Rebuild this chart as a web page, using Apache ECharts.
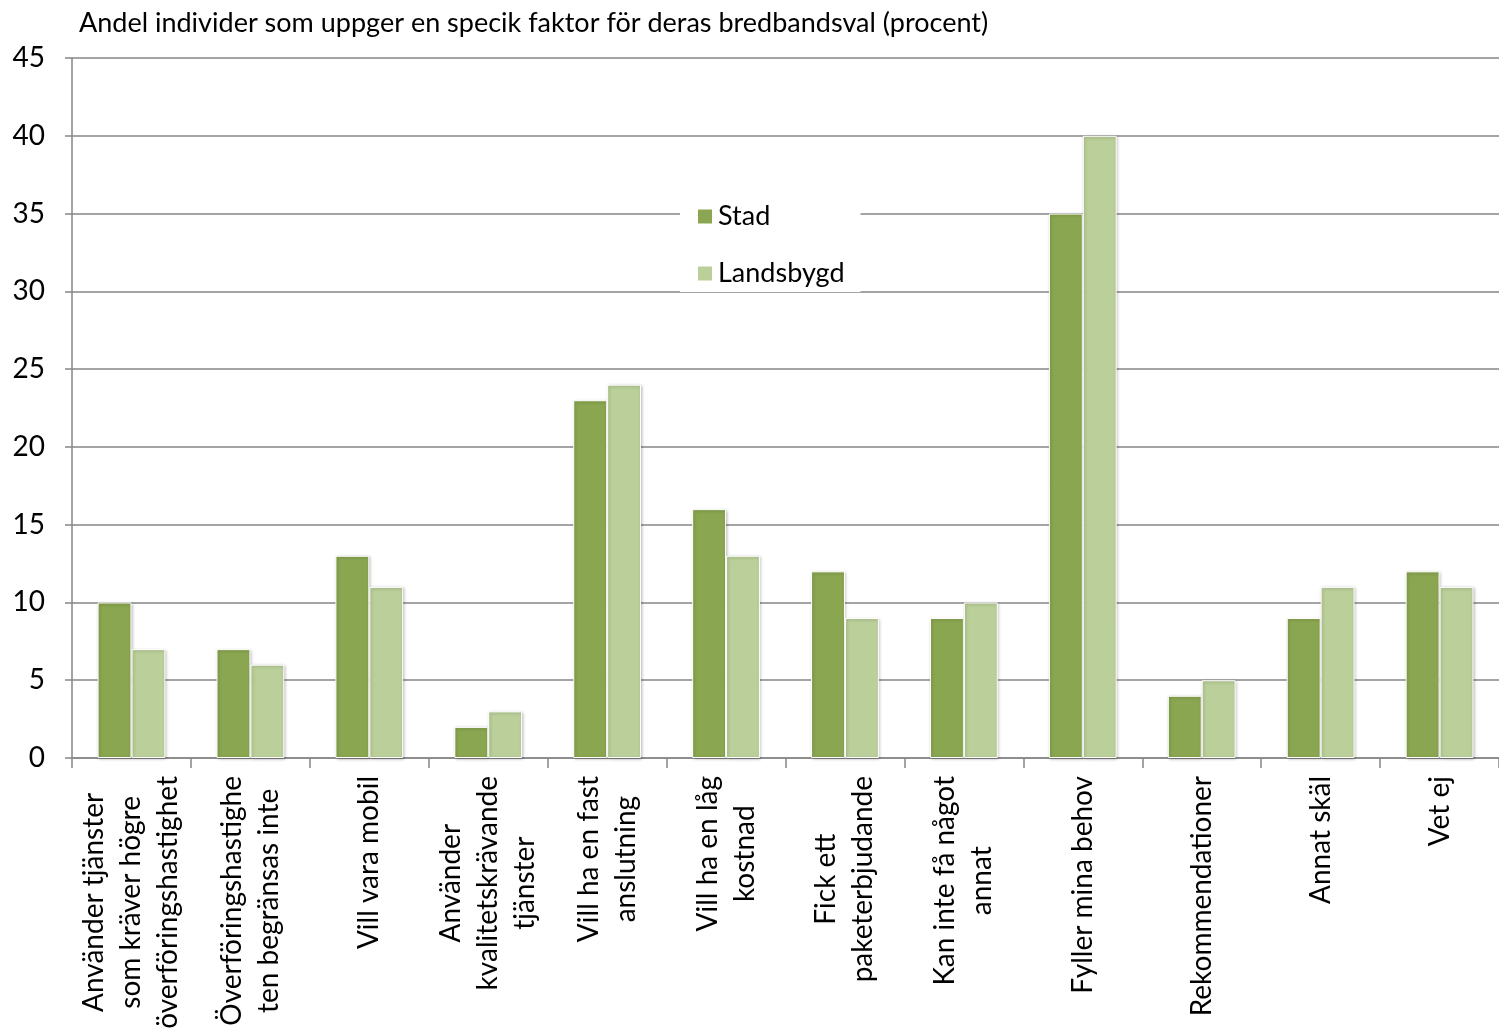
<!DOCTYPE html>
<html>
<head>
<meta charset="utf-8">
<script src="https://cdn.jsdelivr.net/npm/echarts@6/dist/echarts.min.js"></script>
<style>
html,body{margin:0;padding:0;background:#fff;}
#chart{width:1499px;height:1035px;}
</style>
</head>
<body>
<div id="chart"></div>
<script>
const titleText = "Andel individer som uppger en specik faktor för deras bredbandsval (procent)";
const categories = [
  "Använder tjänster\nsom kräver högre\növerföringshastighet",
  "Överföringshastighe\nten begränsas inte",
  "Vill vara mobil",
  "Använder\nkvalitetskrävande\ntjänster",
  "Vill ha en fast\nanslutning",
  "Vill ha en låg\nkostnad",
  "Fick ett\npaketerbjudande",
  "Kan inte få något\nannat",
  "Fyller mina behov",
  "Rekommendationer",
  "Annat skäl",
  "Vet ej"
];
const seriesNames = ["Stad", "Landsbygd"];
const stad = [10, 7, 13, 2, 23, 16, 12, 9, 35, 4, 9, 12];
const landsbygd = [7, 6, 11, 3, 24, 13, 9, 10, 40, 5, 11, 11];
const yMin = 0, yMax = 45, yStep = 5;

const FONT = "Lato";
const chart = echarts.init(document.getElementById('chart'));
const barStyle = (c) => ({
  color: c,
  borderColor: '#ffffff',
  borderWidth: 1,
  shadowColor: 'rgba(0,0,0,0.25)',
  shadowBlur: 3,
  shadowOffsetX: 1,
  shadowOffsetY: 1
});
chart.setOption({
  animation: false,
  backgroundColor: '#ffffff',
  title: {
    text: titleText,
    left: 74, top: 5,
    textStyle: {fontFamily: FONT, fontSize: 27, fontWeight: 'normal', color: '#000'}
  },
  legend: {
    orient: 'vertical',
    left: 680, top: 198,
    backgroundColor: '#ffffff',
    padding: [5, 16, 5, 16],
    itemGap: 30,
    itemWidth: 16, itemHeight: 16,
    icon: 'rect',
    textStyle: {fontFamily: FONT, fontSize: 27, color: '#000'},
    data: seriesNames
  },
  grid: {left: 72, right: 0, top: 58, bottom: 277, containLabel: false},
  xAxis: {
    type: 'category',
    data: categories,
    axisLine: {lineStyle: {color: '#868686', width: 1.5}},
    axisTick: {show: true, length: 10, lineStyle: {color: '#868686', width: 1.5}},
    axisLabel: {
      rotate: 90,
      interval: 0,
      margin: 18,
      fontFamily: FONT,
      fontSize: 28,
      color: '#000',
      lineHeight: 37,
      formatter: function (v) {
        return v.split('\n').map(s => '{c|' + s + '}').join('\n');
      },
      rich: {c: {align: 'center', fontFamily: FONT, fontSize: 28, lineHeight: 37, color: '#000'}}
    }
  },
  yAxis: {
    type: 'value',
    min: yMin, max: yMax, interval: yStep,
    axisLine: {show: true, lineStyle: {color: '#868686', width: 1.5}},
    axisTick: {show: true, length: 7, lineStyle: {color: '#868686', width: 1.5}},
    splitLine: {lineStyle: {color: '#868686', width: 1.5}},
    axisLabel: {fontFamily: FONT, fontSize: 28, color: '#000', margin: 27}
  },
  series: [
    {name: seriesNames[0], type: 'bar', data: stad, barGap: '0%', barCategoryGap: '43%', itemStyle: barStyle('#8aa650')},
    {name: seriesNames[1], type: 'bar', data: landsbygd, barGap: '0%', barCategoryGap: '43%', itemStyle: barStyle('#bacf99')}
  ]
});
</script>
</body>
</html>
